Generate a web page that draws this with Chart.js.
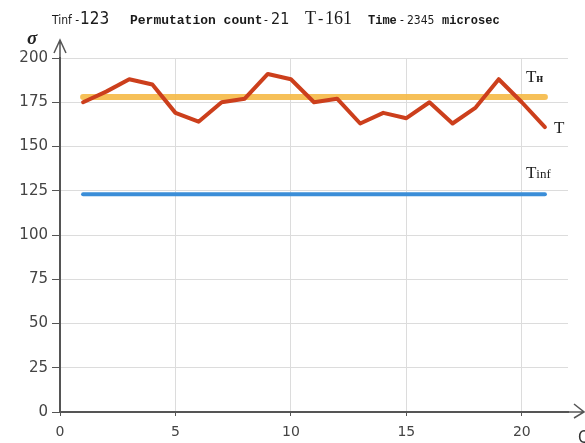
<!DOCTYPE html>
<html>
<head>
<meta charset="utf-8">
<title>Permutations</title>
<script src="https://cdn.jsdelivr.net/npm/chart.js@4.4.1/dist/chart.umd.min.js"></script>
<style>
    html, body { margin: 0; padding: 0; background: #fff; }
    #wrap { width: 585px; height: 443px; position: relative; }
</style>
</head>
<body>
<div id="wrap"><canvas id="chart" width="585" height="443"></canvas></div>
<script>
// permutation number and the T value of each permutation
const qValues = [1, 2, 3, 4, 5, 6, 7, 8, 9, 10, 11, 12, 13, 14, 15, 16, 17, 18, 19, 20, 21];
const tValues = [175, 181, 188, 185, 169, 164, 175, 177, 191, 188, 175, 177, 163, 169, 166, 175, 163, 172, 188, 175, 161];

const thValue = 178;     // Tн level
const tinfValue = 123;   // Tinf level
const permCount = 21;
const timeMicro = 2345;

const yTicks = [0, 25, 50, 75, 100, 125, 150, 175, 200];
const xTicks = [0, 5, 10, 15, 20];

const first = qValues[0];
const last = qValues[qValues.length - 1];

const axisColor = '#555';
const narrow = "'Liberation Sans Narrow', 'DejaVu Sans Condensed', sans-serif";
const mono = "'Liberation Mono', 'DejaVu Sans Mono', monospace";
const serif = "'Liberation Serif', 'DejaVu Serif', serif";

// text run with several fonts on one baseline
function drawRun(ctx, x, y, parts) {
    parts.forEach(p => {
        ctx.font = p.font;
        ctx.fillText(p.text, x, y);
        x += ctx.measureText(p.text).width + (p.gap || 0);
    });
}

function drawAt(ctx, x, y, text, font) {
    ctx.font = font;
    ctx.fillText(text, x, y);
}

const extras = {
    id: 'extras',
    afterDraw(chart) {
        const { ctx, chartArea } = chart;
        const xs = chart.scales.x;
        const ys = chart.scales.y;
        const x0 = xs.getPixelForValue(0);
        const y0 = ys.getPixelForValue(0);

        ctx.save();
        // axis arrows
        ctx.strokeStyle = axisColor;
        ctx.lineWidth = 1.5;
        ctx.beginPath();
        ctx.moveTo(x0, chartArea.top);
        ctx.lineTo(x0, chartArea.top - 18);
        ctx.moveTo(x0 - 6, chartArea.top - 5);
        ctx.lineTo(x0, chartArea.top - 18);
        ctx.lineTo(x0 + 6, chartArea.top - 5);
        ctx.moveTo(chartArea.right, y0);
        ctx.lineTo(chartArea.right + 16, y0);
        ctx.moveTo(chartArea.right + 6, y0 - 8);
        ctx.lineTo(chartArea.right + 16, y0);
        ctx.lineTo(chartArea.right + 6, y0 + 6);
        ctx.stroke();

        ctx.fillStyle = '#222';
        ctx.textBaseline = 'alphabetic';
        ctx.font = 'bold italic 19px ' + serif;
        ctx.fillText('σ', 27, 44);
        ctx.font = '17px ' + narrow;
        ctx.fillStyle = '#333';
        ctx.fillText('Q', chartArea.right + 10, 443);

        // series labels
        ctx.fillStyle = '#222';
        drawRun(ctx, xs.getPixelForValue(last) - 19, ys.getPixelForValue(thValue) - 15, [
            { text: 'T', font: '17px ' + serif },
            { text: 'н', font: 'bold 12px ' + serif }
        ]);
        drawRun(ctx, xs.getPixelForValue(last) + 9, ys.getPixelForValue(tValues[tValues.length - 1]) + 6, [
            { text: 'T', font: '17px ' + serif }
        ]);
        drawRun(ctx, xs.getPixelForValue(last) - 19, ys.getPixelForValue(tinfValue) - 16, [
            { text: 'T', font: '17px ' + serif },
            { text: 'inf', font: '13px ' + serif }
        ]);

        // header line
        ctx.fillStyle = '#1a1a1a';
        drawAt(ctx, 52, 24, 'Tinf -', '12px ' + narrow);
        drawAt(ctx, 80, 24, String(tinfValue), '17px ' + narrow);
        drawAt(ctx, 130, 24, 'Permutation count', 'bold 13px ' + mono);
        drawAt(ctx, 264, 24, '-', '12px ' + narrow);
        drawAt(ctx, 271, 24, String(permCount), '16px ' + narrow);
        drawAt(ctx, 305, 24, 'T', '18px ' + serif);
        drawAt(ctx, 318, 24, '-', '16px ' + serif);
        drawAt(ctx, 325, 24, String(tValues[tValues.length - 1]), '18px ' + serif);
        drawAt(ctx, 368, 24, 'Time', 'bold 12px ' + mono);
        drawAt(ctx, 400, 24, '-', '12px ' + narrow);
        drawAt(ctx, 407, 24, String(timeMicro), '12px ' + narrow);
        drawAt(ctx, 442, 24, 'microsec', 'bold 12px ' + mono);
        ctx.restore();
    }
};

new Chart(document.getElementById('chart'), {
    type: 'line',
    data: {
        datasets: [
            {
                label: 'T',
                data: qValues.map((q, i) => ({ x: q, y: tValues[i] })),
                borderColor: '#cc3f1c',
                borderWidth: 4,
                borderJoinStyle: 'round',
                order: 0
            },
            {
                label: 'Tн',
                data: [{ x: first, y: thValue }, { x: last, y: thValue }],
                borderColor: 'rgba(245, 185, 70, 0.9)',
                borderWidth: 6,
                order: 1
            },
            {
                label: 'Tinf',
                data: [{ x: first, y: tinfValue }, { x: last, y: tinfValue }],
                borderColor: '#3b8ed8',
                borderWidth: 4,
                order: 1
            }
        ]
    },
    options: {
        responsive: false,
        animation: false,
        events: [],
        layout: {
            padding: { top: 58, right: 17, left: 0, bottom: 0 }
        },
        elements: {
            point: { radius: 0 },
            line: { tension: 0, borderCapStyle: 'round' }
        },
        plugins: {
            legend: { display: false },
            tooltip: { enabled: false }
        },
        scales: {
            x: {
                type: 'linear',
                min: 0,
                max: 22,
                afterBuildTicks: axis => { axis.ticks = xTicks.map(v => ({ value: v })); },
                afterFit: scale => { scale.height = 31; },
                ticks: {
                    color: '#444',
                    font: { family: 'DejaVu Sans', size: 14 },
                    padding: 8,
                    maxRotation: 0
                },
                grid: { color: '#dcdcdc', tickColor: axisColor, tickLength: 4 },
                border: { color: axisColor, width: 2 }
            },
            y: {
                min: 0,
                max: 200,
                afterBuildTicks: axis => { axis.ticks = yTicks.map(v => ({ value: v })); },
                afterFit: scale => { scale.width = 60; },
                ticks: {
                    color: '#444',
                    font: { family: 'DejaVu Sans', size: 15 },
                    padding: 4
                },
                grid: { color: '#dcdcdc', tickColor: axisColor, tickLength: 8 },
                border: { color: axisColor, width: 2 }
            }
        }
    },
    plugins: [extras]
});
</script>
</body>
</html>
